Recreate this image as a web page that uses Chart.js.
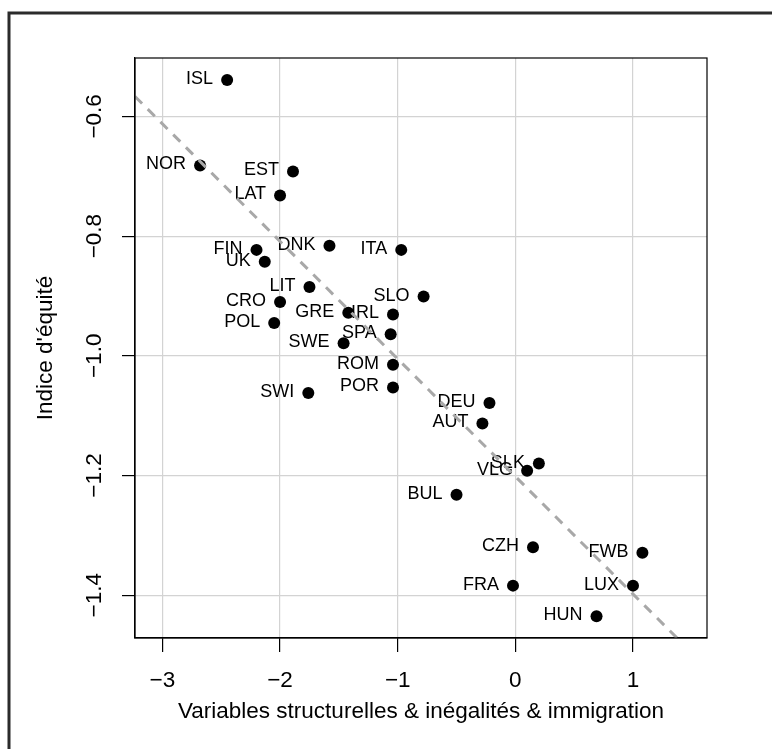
<!DOCTYPE html>
<html>
<head>
<meta charset="utf-8">
<script src="https://cdn.jsdelivr.net/npm/chart.js@4/dist/chart.umd.min.js"></script>
<style>
  html, body { margin: 0; padding: 0; background: #fff; }
  #wrap { width: 772px; height: 749px; position: relative; }
</style>
</head>
<body>
<div id="wrap"><canvas id="myChart" width="772" height="749"></canvas></div>
<script>
const countries = ['ISL', 'NOR', 'EST', 'LAT', 'FIN', 'UK', 'DNK', 'ITA', 'LIT', 'SLO', 'CRO', 'GRE', 'IRL', 'POL', 'SPA',
    'SWE', 'ROM', 'POR', 'SWI', 'DEU', 'AUT', 'SLK', 'VLG', 'BUL', 'CZH', 'FWB', 'FRA', 'LUX', 'HUN'];
const xVals = [-2.45, -2.68, -1.89, -2.00, -2.20, -2.13, -1.58, -0.97, -1.75, -0.78, -2.00, -1.42, -1.04, -2.05, -1.06,
    -1.46, -1.04, -1.04, -1.76, -0.22, -0.28, 0.20, 0.10, -0.50, 0.15, 1.08, -0.02, 1.00, 0.69];
const yVals = [-0.539, -0.682, -0.692, -0.732, -0.823, -0.843, -0.816, -0.823, -0.885, -0.901, -0.910, -0.928, -0.931, -0.945, -0.964,
    -0.979, -1.015, -1.053, -1.062, -1.079, -1.113, -1.180, -1.192, -1.232, -1.320, -1.329, -1.384, -1.384, -1.435];
const xTicks = [-3, -2, -1, 0, 1];
const xTickLabels = ['\u22123', '\u22122', '\u22121', '0', '1'];
const yTicks = [-1.4, -1.2, -1.0, -0.8, -0.6];
const yTickLabels = ['\u22121.4', '\u22121.2', '\u22121.0', '\u22120.8', '\u22120.6'];
const fitLine = [-1.2016, -0.1964]; // intercept, slope

const FONT = "'Liberation Sans', Arial, Helvetica, sans-serif";
const xMin = -3.233, xMax = 1.629, yMin = -1.4715, yMax = -0.5024;

const points = xVals.map((x, i) => ({x: x, y: yVals[i]}));
const linePts = [xMin, xMax].map(x => ({x: x, y: fitLine[0] + fitLine[1] * x}));

const decor = {
    id: 'decor',
    beforeDraw(chart) {
        const c = chart.ctx;
        c.save();
        c.strokeStyle = '#2b2b2b';
        c.lineWidth = 3;
        c.beginPath();
        c.moveTo(9, 749);
        c.lineTo(9, 13);
        c.lineTo(772, 13);
        c.stroke();
        c.restore();
    },
    afterDatasetDraw(chart, args) {
        if (args.index !== 1) return;
        const c = chart.ctx, xs = chart.scales.x, ys = chart.scales.y;
        c.save();
        c.font = '18px ' + FONT;
        c.fillStyle = '#000';
        c.textAlign = 'right';
        c.textBaseline = 'middle';
        countries.forEach((name, i) => {
            c.fillText(name, xs.getPixelForValue(xVals[i]) - 14, ys.getPixelForValue(yVals[i]) - 1);
        });
        c.restore();
    },
    afterDraw(chart) {
        const c = chart.ctx, a = chart.chartArea, ys = chart.scales.y;
        c.save();
        c.strokeStyle = '#000';
        c.lineWidth = 1.2;
        c.strokeRect(a.left, a.top, a.right - a.left, a.bottom - a.top);
        // y tick labels, rotated like R
        c.font = '22.5px ' + FONT;
        c.fillStyle = '#000';
        c.textAlign = 'center';
        c.textBaseline = 'middle';
        yTicks.forEach((v, i) => {
            c.save();
            c.translate(95, ys.getPixelForValue(v));
            c.rotate(-Math.PI / 2);
            c.fillText(yTickLabels[i], 0, 0);
            c.restore();
        });
        c.restore();
    }
};

new Chart(document.getElementById('myChart'), {
    type: 'scatter',
    data: {
        datasets: [
            {
                type: 'line',
                data: linePts,
                borderColor: '#a8a8a8',
                borderWidth: 3,
                borderDash: [10, 8],
                pointRadius: 0,
                fill: false,
                clip: 0
            },
            {
                data: points,
                backgroundColor: '#000',
                borderWidth: 0,
                pointRadius: 6,
                pointHoverRadius: 6
            }
        ]
    },
    options: {
        responsive: false,
        animation: false,
        events: [],
        layout: {padding: {top: 58, right: 65, bottom: 0, left: 0}},
        plugins: {legend: {display: false}, tooltip: {enabled: false}},
        scales: {
            x: {
                type: 'linear',
                min: xMin,
                max: xMax,
                afterBuildTicks: axis => { axis.ticks = xTicks.map(v => ({value: v})); },
                afterFit: axis => { axis.height = 111; },
                grid: {color: '#d3d3d3', lineWidth: 1.2, tickColor: '#000', tickLength: 14, tickWidth: 1.2},
                border: {color: '#000', width: 1.2},
                ticks: {
                    color: '#000', font: {family: FONT, size: 22.5}, padding: 15, maxRotation: 0,
                    callback: (v, i) => xTickLabels[i]
                },
                title: {display: true, text: 'Variables structurelles & inégalités & immigration',
                    color: '#000', font: {family: FONT, size: 22.5}, padding: 23.5}
            },
            y: {
                type: 'linear',
                min: yMin,
                max: yMax,
                afterBuildTicks: axis => { axis.ticks = yTicks.map(v => ({value: v})); },
                afterFit: axis => { axis.width = 135; },
                grid: {color: '#d3d3d3', lineWidth: 1.2, tickColor: '#000', tickLength: 13, tickWidth: 1.2},
                border: {color: '#000', width: 1.2},
                ticks: {display: false},
                title: {display: true, text: "Indice d'équité", color: '#000',
                    font: {family: FONT, size: 22.5}, padding: 32}
            }
        }
    },
    plugins: [decor]
});
</script>
</body>
</html>
